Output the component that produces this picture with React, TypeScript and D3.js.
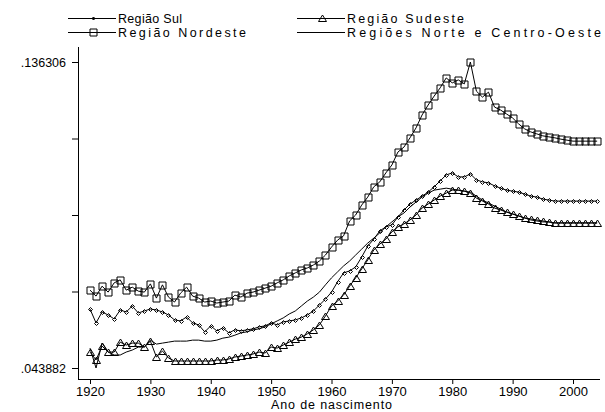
import * as d3 from "d3";
import { useRef, useEffect } from "react";

// birth years 1920..2004
const years = d3.range(1920, 2005);

const sul = [
  0.0617, 0.0575, 0.0608, 0.0599, 0.0587, 0.0614, 0.0608, 0.0626, 0.0605, 0.0611,
  0.0617, 0.0614, 0.0608, 0.0599, 0.0584, 0.0581, 0.0593, 0.0575, 0.0569, 0.0548,
  0.0566, 0.0551, 0.056, 0.0545, 0.0554, 0.0551, 0.0554, 0.0557, 0.0563, 0.0566,
  0.0575, 0.0569, 0.0578, 0.0581, 0.0584, 0.059, 0.0599, 0.0611, 0.0629, 0.0647,
  0.0668, 0.0699, 0.0726, 0.0732, 0.0744, 0.0774, 0.0807, 0.0828, 0.0853, 0.0865,
  0.0871, 0.0895, 0.0916, 0.0934, 0.0946, 0.0958, 0.097, 0.0986, 0.1004, 0.1022,
  0.1028, 0.1016, 0.1016, 0.1025, 0.1007, 0.1001, 0.0998, 0.0989, 0.0982, 0.0976,
  0.0973, 0.097, 0.0964, 0.0958, 0.0955, 0.0949, 0.0946, 0.0943, 0.0943, 0.0943,
  0.0943, 0.0943, 0.0943, 0.0943, 0.0943,
];

const nordeste = [
  0.0674, 0.0656, 0.0686, 0.0668, 0.0696, 0.0705, 0.0674, 0.0683, 0.0671, 0.0668,
  0.0693, 0.065, 0.069, 0.0653, 0.0638, 0.0665, 0.0683, 0.0656, 0.065, 0.0638,
  0.0641, 0.0635, 0.0638, 0.0641, 0.0659, 0.0653, 0.0665, 0.0668, 0.0674, 0.068,
  0.0686, 0.0696, 0.0705, 0.0717, 0.0726, 0.0735, 0.0741, 0.075, 0.0762, 0.078,
  0.0804, 0.0825, 0.0838, 0.0883, 0.0901, 0.0931, 0.0955, 0.0986, 0.1001, 0.1028,
  0.1052, 0.1091, 0.1106, 0.1134, 0.1164, 0.1203, 0.1233, 0.126, 0.1285, 0.1315,
  0.13, 0.1309, 0.1297, 0.136306, 0.1275, 0.1257, 0.1272, 0.1227, 0.1218, 0.1206,
  0.1194, 0.1176, 0.1161, 0.1152, 0.1146, 0.114, 0.1137, 0.1134, 0.113, 0.1127,
  0.1124, 0.1124, 0.1124, 0.1124, 0.1124,
];

const sudeste = [
  0.0487, 0.0463, 0.0505, 0.0487, 0.0487, 0.0517, 0.0508, 0.0514, 0.0514, 0.0502,
  0.052, 0.0472, 0.049, 0.0469, 0.046, 0.046, 0.046, 0.046, 0.046, 0.046,
  0.046, 0.0463, 0.0463, 0.0466, 0.0472, 0.0475, 0.0478, 0.0481, 0.0487, 0.0484,
  0.0502, 0.0499, 0.0508, 0.0517, 0.0526, 0.0532, 0.0542, 0.0554, 0.0569, 0.0596,
  0.0626, 0.0641, 0.0659, 0.0686, 0.0711, 0.0738, 0.0765, 0.0795, 0.0813, 0.0828,
  0.085, 0.0865, 0.0874, 0.0886, 0.0901, 0.0922, 0.0934, 0.0946, 0.0958, 0.0967,
  0.0976, 0.0976, 0.0973, 0.0967, 0.0952, 0.0943, 0.0934, 0.0922, 0.0916, 0.091,
  0.0904, 0.0898, 0.0892, 0.0889, 0.0886, 0.0883, 0.088, 0.0877, 0.0877, 0.0877,
  0.0877, 0.0877, 0.0877, 0.0877, 0.0877,
];

const norteCentroOeste = [
  0.0499, 0.043882, 0.0514, 0.0487, 0.0478, 0.0478, 0.0487, 0.0493, 0.0502, 0.0502,
  0.0523, 0.0511, 0.0514, 0.0517, 0.052, 0.052, 0.052, 0.0523, 0.0523, 0.052,
  0.052, 0.0523, 0.0529, 0.0532, 0.0538, 0.0545, 0.0548, 0.0554, 0.0557, 0.0563,
  0.0572, 0.0581, 0.059, 0.0602, 0.0611, 0.0626, 0.0641, 0.0653, 0.0668, 0.069,
  0.0711, 0.0729, 0.0747, 0.0762, 0.078, 0.0798, 0.0816, 0.0831, 0.0847, 0.0865,
  0.088, 0.0895, 0.0907, 0.0925, 0.094, 0.0955, 0.0967, 0.0976, 0.0979, 0.0982,
  0.0979, 0.0976, 0.0973, 0.097, 0.0958, 0.0946, 0.0937, 0.0928, 0.0919, 0.091,
  0.0904, 0.0898, 0.0892, 0.0886, 0.0883, 0.088, 0.088, 0.0877, 0.0877, 0.0877,
  0.0877, 0.0877, 0.0877, 0.0877, 0.0877,
];

const xTicks = [1920, 1930, 1940, 1950, 1960, 1970, 1980, 1990, 2000];
const yTicks = [0.043882, 0.066988, 0.090094, 0.1132, 0.136306];
const yTickLabels = [".043882", "", "", "", ".136306"];
const xTitle = "Ano de nascimento";

const seriesNames = ["Região Sul", "Região Nordeste", "Região Sudeste", "Regiões Norte e Centro-Oeste"];
const seriesValues = [sul, nordeste, sudeste, norteCentroOeste];
const seriesMarkers = ["diamond", "square", "triangle", "none"];
// rendered widths of the legend labels in the original (wide bitmap font)
const legendTextWidths = [64, 128, 117, 254];

const FONT = "'Liberation Sans', Arial, sans-serif";

function markerPath(kind: string, s: number) {
  if (kind === "square") return `M${-s},${-s}h${2 * s}v${2 * s}h${-2 * s}Z`;
  if (kind === "triangle") return `M0,${-s}L${s + 0.5},${s - 0.5}L${-s - 0.5},${s - 0.5}Z`;
  if (kind === "diamond") return `M0,${-s}L${s},0L0,${s}L${-s},0Z`;
  return "";
}
const markerSize: Record<string, number> = { square: 3.5, triangle: 3.5, diamond: 2 };

export default function App() {
  const ref = useRef<SVGSVGElement>(null);

  useEffect(() => {
    const width = 605, height = 412;
    const svg = d3.select(ref.current);
    svg.selectAll("*").remove();

    const plot = { left: 78, right: 600, top: 47, bottom: 379 };
    const x = d3.scaleLinear().domain([1920, 2000]).range([90, 573]);
    const y = d3.scaleLinear().domain([0.043882, 0.136306]).range([368, 62]);

    svg.append("rect").attr("width", width).attr("height", height).attr("fill", "white");

    // x axis
    const gx = svg.append("g")
      .attr("transform", `translate(0,${plot.bottom})`)
      .call(d3.axisBottom(x).tickValues(xTicks).tickSize(5).tickPadding(3).tickFormat(d3.format("d")));
    gx.select(".domain").remove();
    gx.selectAll("text").attr("font-family", FONT).attr("font-size", 13).attr("fill", "black");
    svg.append("line")
      .attr("x1", plot.left).attr("x2", plot.right)
      .attr("y1", plot.bottom + 0.5).attr("y2", plot.bottom + 0.5)
      .attr("stroke", "black");

    // y axis
    const gy = svg.append("g")
      .attr("transform", `translate(${plot.left},0)`)
      .call(d3.axisLeft(y).tickValues(yTicks).tickSize(6).tickPadding(6)
        .tickFormat((d, i) => yTickLabels[i]));
    gy.select(".domain").remove();
    gy.selectAll("text").attr("font-family", FONT).attr("font-size", 12.5).attr("fill", "black");
    svg.append("line")
      .attr("x1", plot.left + 0.5).attr("x2", plot.left + 0.5)
      .attr("y1", plot.top).attr("y2", plot.bottom)
      .attr("stroke", "black");

    // x title
    svg.append("text")
      .attr("x", (x(1920) + x(2000)) / 2)
      .attr("y", 409)
      .attr("text-anchor", "middle")
      .attr("font-family", FONT)
      .attr("font-size", 12.5)
      .attr("textLength", 121)
      .attr("lengthAdjust", "spacing")
      .text(xTitle);

    // series
    const line = d3.line<number>()
      .x((d, i) => x(years[i]))
      .y((d) => y(d));

    seriesValues.forEach((vals, k) => {
      svg.append("path")
        .attr("d", line(vals))
        .attr("fill", "none")
        .attr("stroke", "black")
        .attr("stroke-width", 1);
      const kind = seriesMarkers[k];
      if (kind !== "none") {
        svg.append("g").selectAll("path")
          .data(vals)
          .join("path")
          .attr("transform", (d, i) => `translate(${Math.round(x(years[i])) + 0.5},${Math.round(y(d)) + 0.5})`)
          .attr("d", markerPath(kind, markerSize[kind]))
          .attr("fill", "none")
          .attr("stroke", "black")
          .attr("stroke-width", 1);
      }
    });

    // legend: two columns, two rows
    const legendCols = [68, 297];
    const legendRows = [18, 32];
    seriesNames.forEach((name, k) => {
      const cx = k < 2 ? legendCols[0] : legendCols[1];
      const cy = legendRows[k % 2];
      const g = svg.append("g");
      g.append("line")
        .attr("x1", cx).attr("x2", cx + 48)
        .attr("y1", cy + 0.5).attr("y2", cy + 0.5)
        .attr("stroke", "black");
      const kind = seriesMarkers[k];
      if (kind !== "none") {
        g.append("path")
          .attr("transform", `translate(${cx + 25.5},${cy + 0.5})`)
          .attr("d", markerPath(kind, kind === "diamond" ? 1.5 : markerSize[kind]))
          .attr("fill", kind === "diamond" ? "black" : "none")
          .attr("stroke", "black");
      }
      g.append("text")
        .attr("x", cx + 50)
        .attr("y", cy + 4.5)
        .attr("font-family", FONT)
        .attr("font-size", 12.5)
        .attr("textLength", legendTextWidths[k])
        .attr("lengthAdjust", "spacing")
        .text(name);
    });
  }, []);

  return (
    <svg
      ref={ref}
      width={605}
      height={412}
      style={{ position: "absolute", left: 0, top: 0, display: "block" }}
    />
  );
}
